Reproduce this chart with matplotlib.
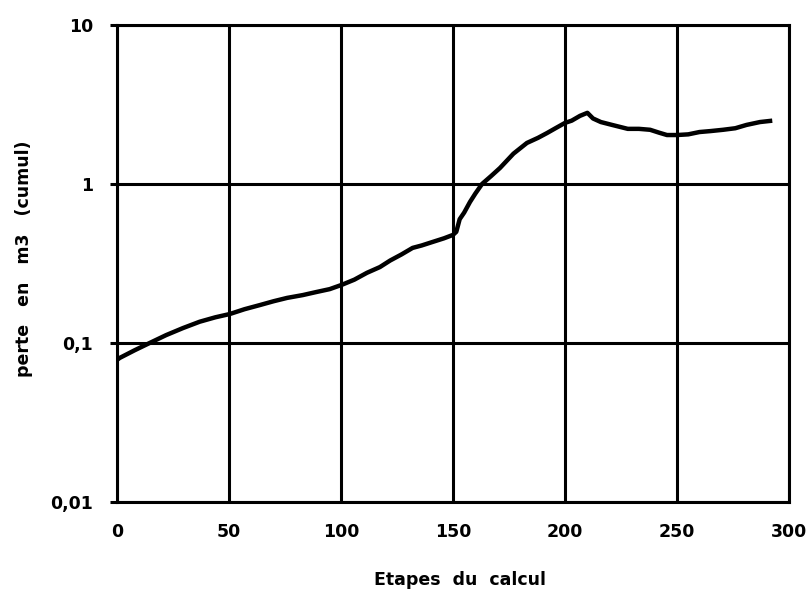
import matplotlib.pyplot as plt
import numpy as np

# etapes du calcul / perte cumulee (m3)
etapes = [0, 1.3, 8, 14.7, 22, 29.5, 37, 44, 50.4, 57, 63.8, 70, 76, 83, 89, 95,
          100.4, 106, 111.6, 117.4, 122, 127, 132, 136, 141, 146, 150,
          151.5, 153, 155, 157.6, 160, 163, 167, 171, 177, 183, 188, 192, 196, 200,
          203, 206.7, 210, 212.5, 216, 221, 228, 233, 238, 242, 245.5, 250,
          255, 260, 265, 270.5, 276, 281, 287, 291.5]
perte = [0.078, 0.0805, 0.09, 0.1, 0.112, 0.124, 0.136, 0.145, 0.152, 0.163, 0.173,
         0.183, 0.192, 0.200, 0.209, 0.218, 0.232, 0.250, 0.276, 0.30, 0.33,
         0.36, 0.396, 0.41, 0.432, 0.455, 0.478, 0.50, 0.60, 0.66, 0.77, 0.87, 1.0,
         1.12, 1.26, 1.55, 1.81, 1.95, 2.09, 2.25, 2.42, 2.50, 2.68, 2.80, 2.58,
         2.45, 2.35, 2.22, 2.22, 2.19, 2.10, 2.03, 2.03, 2.05, 2.12, 2.15,
         2.19, 2.24, 2.35, 2.45, 2.49]

xticks = [0, 50, 100, 150, 200, 250, 300]
yticks = [0.01, 0.1, 1, 10]
ylabels = ['0,01', '0,1', '1', '10']

plt.rcParams['font.family'] = ['DejaVu Sans']
plt.rcParams['font.weight'] = 'bold'

fig = plt.figure(figsize=(8.11, 5.93), dpi=100)
ax = fig.add_axes([0.144, 0.1535, 0.829, 0.8045])

ax.plot(etapes, perte, color='black', lw=3.2)

ax.set_yscale('log')
ax.set_xlim(0, 300)
ax.set_ylim(0.01, 10)
ax.set_xticks(xticks)
ax.set_xticklabels([str(v) for v in xticks], fontsize=12.5, fontweight='bold')
ax.set_yticks(yticks)
ax.set_yticklabels(ylabels, fontsize=12.5, fontweight='bold')
ax.minorticks_off()
ax.tick_params(axis='x', length=0, pad=15)
ax.tick_params(axis='y', length=5, width=2.2, pad=12)
ax.grid(True, color='black', lw=2.2)
for s in ax.spines.values():
    s.set_linewidth(2.2)

ax.set_xlabel('Etapes  du  calcul', fontsize=12.5, fontweight='bold')
ax.xaxis.set_label_coords(0.51, -0.145)
ax.set_ylabel('perte   en   m3   (cumul)', fontsize=12.5, fontweight='bold')
ax.yaxis.set_label_coords(-0.125, 0.51)

fig.savefig('out.png', dpi=100)
